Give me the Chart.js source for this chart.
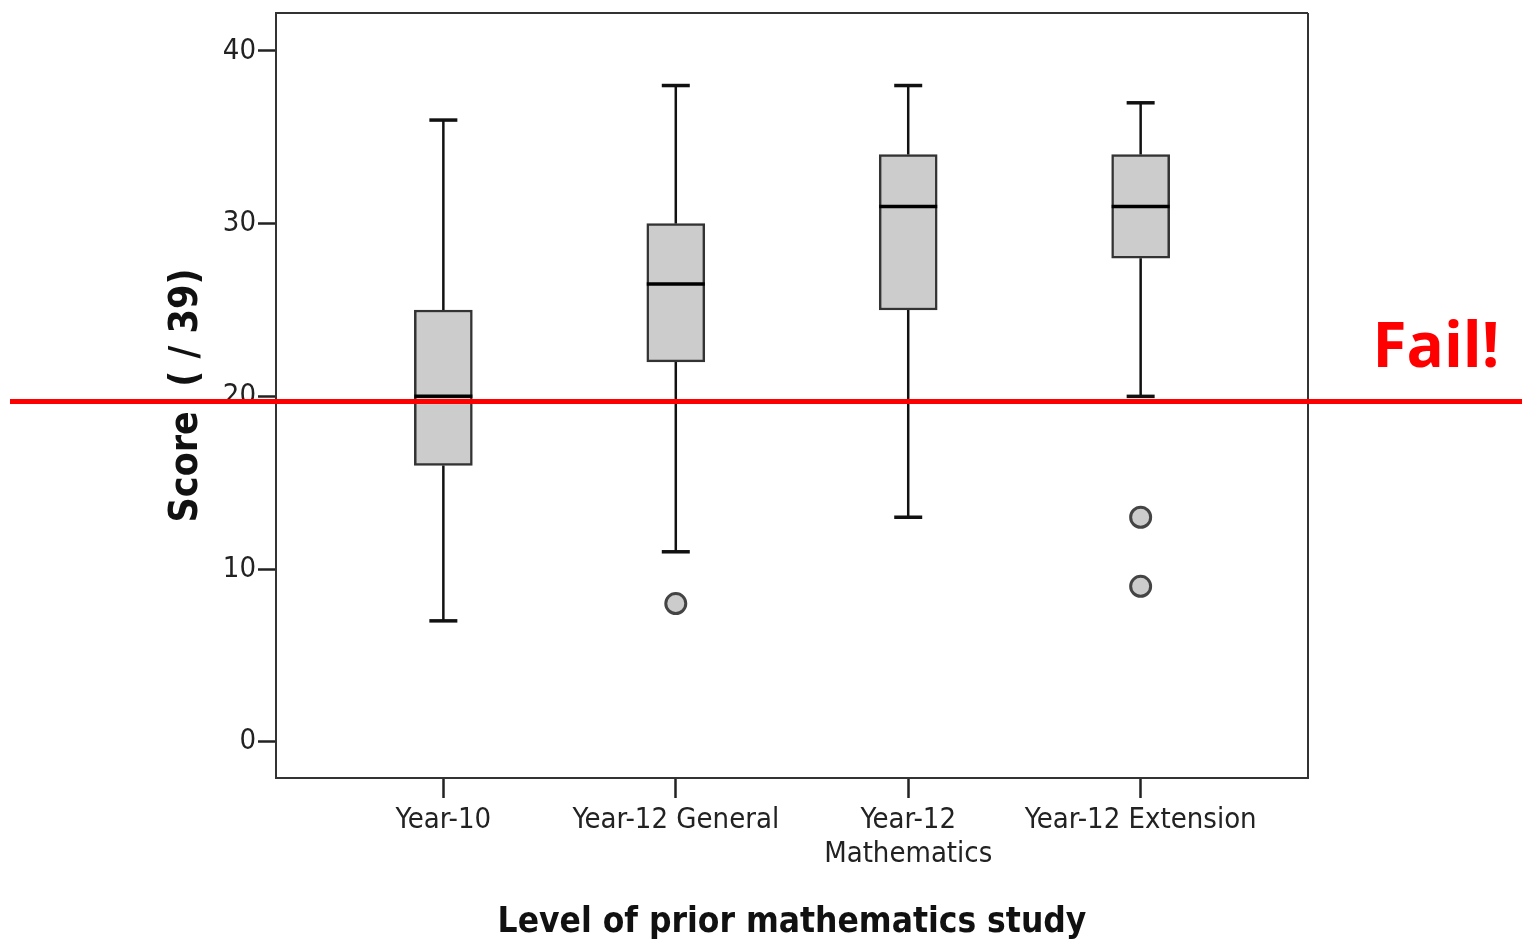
<!DOCTYPE html>
<html>
<head>
<meta charset="utf-8">
<title>Score by level of prior mathematics study</title>
<script src="https://cdn.jsdelivr.net/npm/chart.js@4"></script>
<style>
    html, body { margin: 0; padding: 0; background: #fff; }
    #wrap { width: 1524px; height: 944px; }
</style>
</head>
<body>
<div id="wrap"><canvas id="boxChart"></canvas></div>
<script>
// box plot values
var categories = ['Year-10', 'Year-12 General', ['Year-12', 'Mathematics'], 'Year-12 Extension'];
var whiskerLow = [7, 11, 13, 20];
var q1 = [16, 22, 25, 28];
var median = [20, 26.5, 31, 31];
var q3 = [25, 30, 34, 34];
var whiskerHigh = [36, 38, 38, 37];
var outlierCat = [2, 4, 4];
var outlierVal = [8, 13, 9];
var yTicks = [0, 10, 20, 30, 40];
var failScore = 19.7;

var tickFont = '"Liberation Sans Narrow", "Arial Narrow", "DejaVu Sans Condensed", sans-serif';

function seg(ctx, x1, y1, x2, y2) {
    ctx.beginPath();
    ctx.moveTo(x1, y1);
    ctx.lineTo(x2, y2);
    ctx.stroke();
}

var boxParts = {
    id: 'boxParts',
    beforeDatasetsDraw: function (chart) {
        var ctx = chart.ctx, x = chart.scales.x, y = chart.scales.y;
        ctx.save();
        ctx.strokeStyle = '#111';
        for (var i = 0; i < categories.length; i++) {
            var px = x.getPixelForValue(i + 1);
            ctx.lineWidth = 2.5;
            seg(ctx, px, y.getPixelForValue(whiskerLow[i]), px, y.getPixelForValue(q1[i]));
            seg(ctx, px, y.getPixelForValue(q3[i]), px, y.getPixelForValue(whiskerHigh[i]));
            ctx.lineWidth = 3.5;
            seg(ctx, px - 14, y.getPixelForValue(whiskerLow[i]), px + 14, y.getPixelForValue(whiskerLow[i]));
            seg(ctx, px - 14, y.getPixelForValue(whiskerHigh[i]), px + 14, y.getPixelForValue(whiskerHigh[i]));
        }
        ctx.restore();
    },
    afterDatasetsDraw: function (chart) {
        var ctx = chart.ctx, x = chart.scales.x, y = chart.scales.y;
        ctx.save();
        ctx.strokeStyle = '#000';
        ctx.lineWidth = 3.5;
        for (var i = 0; i < categories.length; i++) {
            var px = x.getPixelForValue(i + 1);
            seg(ctx, px - 29, y.getPixelForValue(median[i]), px + 29, y.getPixelForValue(median[i]));
        }
        // top and right of the frame
        var a = chart.chartArea;
        ctx.strokeStyle = '#333';
        ctx.lineWidth = 2;
        seg(ctx, a.left, a.top, a.right, a.top);
        seg(ctx, a.right, a.top, a.right, a.bottom);
        ctx.restore();
    },
    afterDraw: function (chart) {
        var ctx = chart.ctx, y = chart.scales.y;
        var py = y.getPixelForValue(failScore);
        ctx.save();
        ctx.strokeStyle = '#ff0000';
        ctx.lineWidth = 5;
        seg(ctx, 10, py, chart.width - 2, py);
        ctx.fillStyle = '#ff0000';
        ctx.font = 'bold 62px "Open Sans", "Liberation Sans", sans-serif';
        ctx.textAlign = 'center';
        ctx.textBaseline = 'alphabetic';
        ctx.fillText('Fail!', chart.width - 88, py - 35);
        ctx.restore();
    }
};

var ctx = document.getElementById('boxChart').getContext('2d');
var boxChart = new Chart(ctx, {
    type: 'bar',
    data: {
        datasets: [
            {
                type: 'bar',
                label: 'IQR',
                data: categories.map(function (c, i) { return { x: i + 1, y: [q1[i], q3[i]] }; }),
                backgroundColor: '#cccccc',
                borderColor: '#333333',
                borderWidth: 2.5,
                borderSkipped: false,
                barThickness: 58,
            },
            {
                type: 'scatter',
                label: 'Outliers',
                data: outlierVal.map(function (v, i) { return { x: outlierCat[i], y: v }; }),
                backgroundColor: '#cccccc',
                borderColor: '#444444',
                borderWidth: 3,
                pointRadius: 10,
            },
        ],
    },
    options: {
        responsive: true,
        maintainAspectRatio: false,
        animation: false,
        layout: { padding: { left: 0, right: 216, top: 7, bottom: 0 } },
        plugins: {
            legend: { display: false },
            tooltip: { enabled: false },
        },
        scales: {
            x: {
                type: 'linear',
                offset: false,
                min: 0.28,
                max: 4.72,
                afterBuildTicks: function (s) {
                    s.ticks = categories.map(function (c, i) { return { value: i + 1 }; });
                },
                afterFit: function (s) {
                    s.height = 166;
                    s.paddingLeft = 0;
                    s.paddingRight = 0;
                },
                grid: { offset: false, drawOnChartArea: false, drawTicks: true, tickLength: 20, tickWidth: 2.5, tickColor: '#222' },
                border: { display: true, color: '#333', width: 2 },
                ticks: {
                    autoSkip: false,
                    maxRotation: 0,
                    padding: 6,
                    color: '#222',
                    font: { family: tickFont, size: 29, lineHeight: 1.15 },
                    callback: function (v) { return categories[v - 1]; },
                },
                title: {
                    display: true,
                    text: 'Level of prior mathematics study',
                    color: '#111',
                    padding: { top: 0, bottom: 0 },
                    font: { family: tickFont, size: 35, weight: 'bold' },
                },
            },
            y: {
                type: 'linear',
                min: -2.1,
                max: 42.2,
                afterBuildTicks: function (s) {
                    s.ticks = yTicks.map(function (v) { return { value: v }; });
                },
                afterFit: function (s) {
                    s.width = 276;
                    s.paddingTop = 0;
                    s.paddingBottom = 0;
                },
                grid: { drawOnChartArea: false, drawTicks: true, tickLength: 18, tickWidth: 2.5, tickColor: '#222' },
                border: { display: true, color: '#333', width: 2 },
                ticks: {
                    padding: 2,
                    color: '#222',
                    font: { family: tickFont, size: 29 },
                },
                title: {
                    display: true,
                    text: 'Score  ( / 39)',
                    color: '#111',
                    padding: { top: 163, bottom: 0 },
                    font: { family: tickFont, size: 39, weight: 'bold' },
                },
            },
        },
    },
    plugins: [boxParts],
});
</script>
</body>
</html>
